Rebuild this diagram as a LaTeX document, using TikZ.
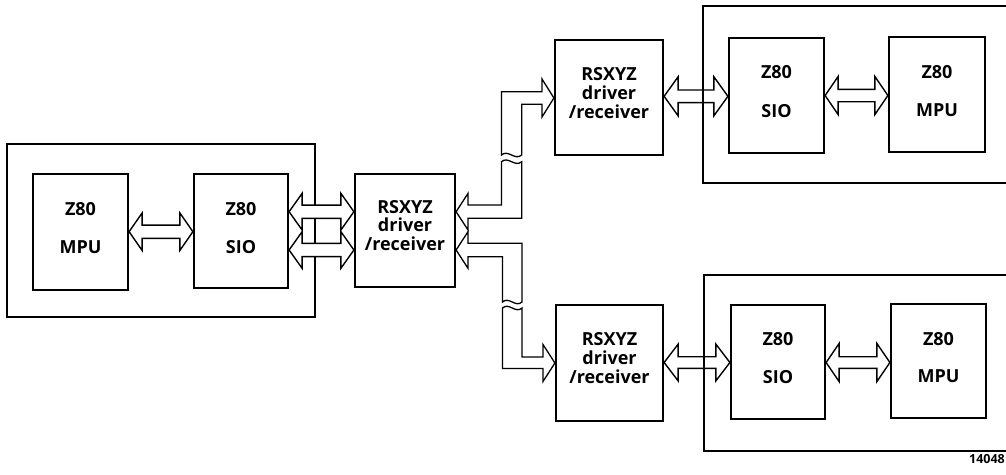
\documentclass[tikz,border=0pt]{standalone}
\usepackage{fontspec}
\setmainfont{Open Sans}
\usetikzlibrary{calc}
\tikzset{
  blockbox/.style={draw, line width=2.2pt, inner sep=0pt},
  textlbl/.style={font=\fontsize{18}{18.8}\selectfont\bfseries, align=center, inner sep=0pt},
  framebox/.style={draw, line width=1.3pt},
  busarrow/.style={draw, fill=white, line width=1.4pt, line join=miter},
  cablepath/.style={draw, fill=white, line width=1.3pt, line join=miter},
}
% double-headed bus arrow between node #1 (left) and node #2 (right)
% #3 centre y, #4 half shaft width, #5 half head height, #6 head length
\newcommand\hdarr[6]{%
  \draw[busarrow] (#1.east|-0,#3) -- ++(#6,-#5) -- ++(0,#5-#4)
    -- ($(#2.west|-0,#3)+(-#6,-#4)$) -- ++(0,#4-#5) -- (#2.west|-0,#3)
    -- ++(-#6,#5) -- ++(0,#4-#5) -- ($(#1.east|-0,#3)+(#6,#4)$)
    -- ++(0,#5-#4) -- cycle;}
\begin{document}
\begin{tikzpicture}[x=1pt,y=-1pt]
\useasboundingbox (0,0) rectangle (1006,474);

% left station frame
\draw[framebox] (7,144) rectangle (315,317);

% blocks
\node[blockbox, minimum width=95pt,  minimum height=116pt] (mpuL) at (80.5,232) {};
\node[blockbox, minimum width=94pt,  minimum height=114pt] (sioL) at (241,231) {};
\node[blockbox, minimum width=100pt, minimum height=113pt] (rsC)  at (405,230.5) {};
\node[blockbox, minimum width=108pt, minimum height=115pt] (rsU)  at (609,97.5) {};
\node[blockbox, minimum width=95pt,  minimum height=115pt] (sioU) at (776.5,95.5) {};
\node[blockbox, minimum width=96pt,  minimum height=115pt] (mpuU) at (937,94.5) {};
\node[blockbox, minimum width=107pt, minimum height=116pt] (rsD)  at (609.5,363) {};
\node[blockbox, minimum width=94pt,  minimum height=114pt] (sioD) at (778,362) {};
\node[blockbox, minimum width=95pt,  minimum height=114pt] (mpuD) at (938.5,361) {};

% texts
\node[textlbl] (tmpuL) at (80.5,228) {Z80\\[19.2pt]MPU};
\node[textlbl] (tsioL) at (241,228) {Z80\\[19.2pt]SIO};
\node[textlbl] (trsC)  at (405,225.5) {RSXYZ\\driver\\/receiver};
\node[textlbl] (trsU)  at (609,93) {RSXYZ\\driver\\/receiver};
\node[textlbl] (tsioU) at (776.5,91.5) {Z80\\[19.6pt]SIO};
\node[textlbl] (tmpuU) at (937,91) {Z80\\[19.2pt]MPU};
\node[textlbl] (trsD)  at (609.5,358) {RSXYZ\\driver\\/receiver};
\node[textlbl] (tsioD) at (778,358) {Z80\\[18.9pt]SIO};
\node[textlbl] (tmpuD) at (938.5,357.5) {Z80\\[18.4pt]MPU};
\node[font=\fontsize{12.5}{14}\selectfont\bfseries, inner sep=0pt, anchor=base east] (fig) at (1005,463) {14048};

% bus arrows
\hdarr{mpuL}{sioL}{231.7}{6.6}{18.7}{13}
\hdarr{sioL}{rsC}{211.7}{6.6}{18.3}{13}
\hdarr{sioL}{rsC}{250}{6.6}{18.3}{13}
\hdarr{rsU}{sioU}{96.3}{6.3}{19.5}{14}
\hdarr{sioU}{mpuU}{95.5}{6.2}{19}{13}
\hdarr{rsD}{sioD}{362.5}{5.8}{18.3}{14}
\hdarr{sioD}{mpuD}{362.5}{5.8}{19}{13}

% cable to upper station (broken)
\draw[cablepath] (521.7,161.7) -- (521.7,218.3) -- (468,218.3) -- (468,230)
  -- (rsC.east|-0,211.7) -- (468,193.4) -- (468,205) -- (501.5,205) -- (501.5,161.7)
  .. controls (508,155.7) and (515,167.7) .. (521.7,161.7) -- cycle;
\draw[cablepath] (501.5,155) -- (501.5,91.7) -- (542,91.7) -- (542,79)
  -- (rsU.west|-0,98) -- (542,117) -- (542,104.3) -- (521.7,104.3) -- (521.7,155)
  .. controls (515,161) and (508,149) .. (501.5,155) -- cycle;

% cable to lower station (broken)
\draw[cablepath] (522,302) -- (522,243.3) -- (468,243.3) -- (468,231.7)
  -- (rsC.east|-0,250) -- (468,268.3) -- (468,256.7) -- (502.5,256.7) -- (502.5,302)
  .. controls (509,296) and (515.5,308) .. (522,302) -- cycle;
\draw[cablepath] (502.5,308) -- (502.5,368.5) -- (543,368.5) -- (543,381.5)
  -- (rsD.west|-0,363) -- (543,344.5) -- (543,357) -- (522,357) -- (522,308)
  .. controls (515.5,314) and (509,302) .. (502.5,308) -- cycle;

% right station frames (open at the right edge)
\draw[framebox] (1006,6) -- (703,6) -- (703,183) -- (1006,183);
\draw[framebox] (1006,275) -- (704,275) -- (704,451) -- (1006,451);
\end{tikzpicture}
\end{document}
